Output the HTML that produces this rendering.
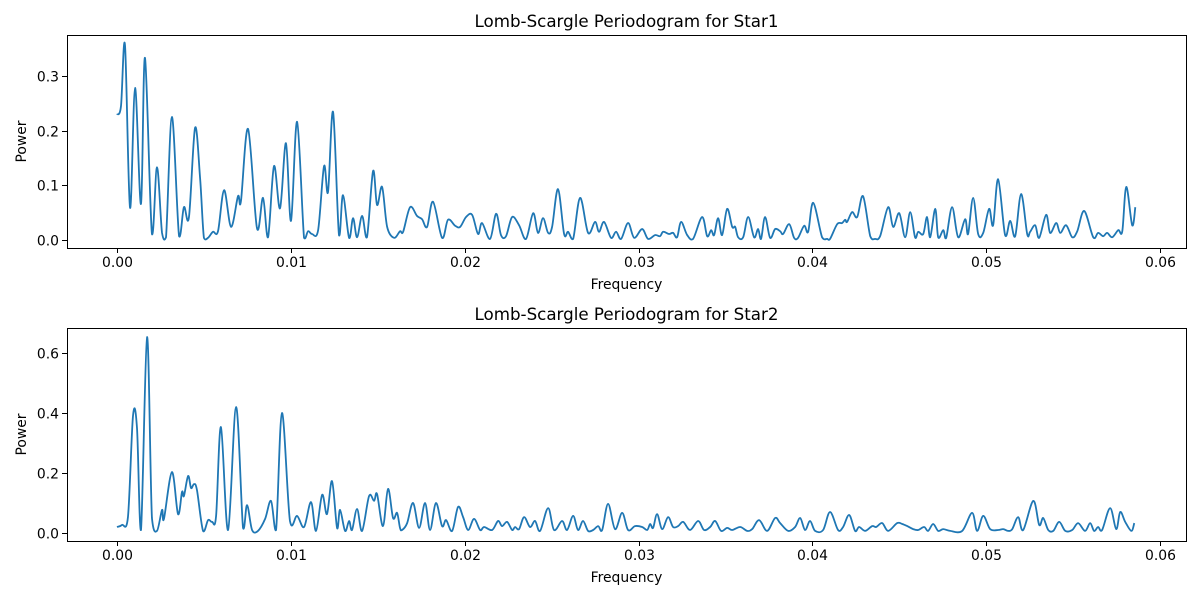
<!DOCTYPE html>
<html><head><meta charset="utf-8">
<style>
body{margin:0;background:#fff}
svg{display:block;font-family:"DejaVu Sans","Liberation Sans",sans-serif}
</style></head>
<body>
<svg id="fig" width="1200" height="600" viewBox="0 0 1200 600" xmlns="http://www.w3.org/2000/svg"></svg>
<script>
const star1Freq=[0,.00023,.00046,.00075,.00104,.00138,.00161,.00201,.0023,.00259,.00282,.00316,.00357,.00385,.00414,.00449,.00478,.005,.00524,.00552,.00581,.00616,.00656,.00696,.00713,.00754,.00805,.0084,.00869,.00903,.00938,.00972,.01001,.01036,.01076,.01099,.01122,.01157,.01191,.01214,.01243,.01277,.013,.01335,.01358,.01381,.0141,.01438,.01473,.01496,.01525,.01554,.01594,.01628,.01646,.01686,.01726,.01755,.01784,.01818,.0187,.01904,.01945,.01974,.02008,.02043,.02077,.021,.02146,.02181,.02209,.02238,.02273,.02313,.02353,.02394,.02422,.02451,.0248,.02503,.02537,.02572,.02595,.02624,.02664,.0271,.0275,.02773,.02802,.02842,.02871,.029,.0294,.02975,.03021,.03055,.03095,.03124,.03142,.03176,.03199,.03222,.03245,.0328,.03314,.03366,.03395,.03418,.03435,.03458,.03481,.0351,.03539,.03556,.03573,.03602,.03631,.03665,.03688,.03705,.03728,.03757,.03786,.03815,.03832,.03867,.03895,.03918,.03953,.03976,.04005,.04056,.04085,.04102,.04143,.04171,.04189,.042,.04229,.04258,.04292,.04333,.04361,.0439,.04436,.04465,.045,.04534,.04563,.04591,.04609,.04638,.0466,.04678,.04707,.04724,.04753,.0477,.04804,.04839,.04879,.04896,.04925,.04954,.04983,.05017,.0504,.05069,.05109,.05138,.05167,.05201,.05236,.05253,.05282,.05305,.05345,.05368,.05403,.05426,.0546,.05495,.05524,.05564,.05616,.05644,.05673,.05696,.05725,.0576,.05783,.05806,.0584,.05858];
const star1Power=[.229,.245,.356,.059,.278,.066,.333,.011,.133,.013,.005,.225,.007,.06,.042,.205,.113,.004,.004,.015,.016,.091,.024,.08,.071,.203,.022,.077,.005,.135,.058,.177,.035,.216,.004,.016,.011,.018,.135,.088,.234,.009,.082,.004,.04,.005,.044,.005,.126,.064,.097,.024,.004,.016,.015,.06,.044,.038,.024,.07,.004,.037,.026,.024,.042,.046,.011,.031,.002,.048,.009,.007,.042,.027,.002,.049,.013,.04,.013,.024,.093,.011,.015,.002,.077,.013,.033,.015,.033,.004,.015,.002,.031,.004,.02,.002,.009,.007,.015,.011,.013,.005,.033,.009,.002,.042,.007,.018,.009,.04,.009,.057,.024,.024,.005,.005,.042,.005,.02,.002,.042,.004,.02,.016,.011,.029,.004,.004,.026,.015,.068,.005,.002,.002,.029,.031,.037,.033,.051,.042,.08,.007,.002,.007,.06,.024,.049,.005,.051,.005,.015,.011,.042,.005,.057,.005,.018,.004,.06,.005,.038,.011,.077,.011,.013,.057,.027,.111,.009,.035,.007,.084,.011,.015,.027,.004,.046,.013,.031,.013,.027,.005,.016,.053,.005,.013,.007,.013,.005,.018,.016,.097,.027,.06];
const star2Freq=[0,.00029,.00063,.00092,.00115,.00138,.00173,.00201,.0023,.00259,.0027,.00316,.00351,.00374,.00385,.00409,.00426,.00443,.0046,.00495,.00524,.00547,.0057,.00598,.00639,.00685,.00725,.00748,.00777,.00811,.00852,.00886,.00915,.00949,.00995,.01036,.01076,.01116,.01145,.0118,.01208,.01237,.01266,.01283,.01312,.01335,.01352,.01381,.0141,.0145,.01479,.01496,.0153,.01559,.01588,.01611,.01628,.0164,.01669,.01703,.01738,.01772,.01801,.01835,.0187,.01893,.01928,.01962,.01991,.0202,.02054,.02089,.02112,.02158,.02192,.02215,.02244,.02273,.0229,.02313,.02342,.02376,.02405,.02434,.0248,.02514,.0256,.02589,.02624,.02652,.02681,.0271,.02739,.02768,.02791,.02825,.02865,.02906,.0294,.0298,.03021,.0305,.03067,.03084,.03107,.03136,.0317,.03199,.03228,.03257,.03297,.03343,.03377,.03412,.03441,.03475,.0351,.03539,.03585,.03625,.03654,.03694,.0374,.03786,.03815,.03861,.03901,.0393,.03958,.03987,.04016,.04062,.04102,.04148,.04177,.04212,.04246,.04269,.04304,.04344,.04367,.04402,.04436,.04488,.04517,.04546,.0458,.04609,.04643,.04666,.04695,.04724,.04753,.04793,.04862,.04919,.04948,.04983,.05023,.05069,.05098,.05127,.0515,.05184,.05213,.05271,.05305,.05328,.05357,.05386,.0542,.05455,.05495,.05529,.05569,.05598,.05621,.05644,.05667,.05713,.05748,.05771,.058,.05835,.05852];
const star2Power=[.02,.027,.053,.39,.35,.01,.653,.05,.007,.077,.047,.203,.063,.137,.123,.19,.15,.163,.143,.007,.043,.037,.057,.353,.01,.42,.017,.093,.01,.007,.047,.107,.01,.4,.04,.057,.02,.103,.007,.127,.063,.173,.017,.077,.007,.04,.01,.08,.007,.123,.107,.13,.023,.147,.05,.067,.017,.01,.033,.1,.017,.1,.01,.1,.023,.043,.007,.087,.053,.01,.047,.01,.02,.01,.04,.023,.037,.01,.02,.013,.053,.02,.04,.007,.083,.01,.04,.01,.057,.01,.04,.007,.01,.023,.01,.097,.013,.067,.01,.023,.02,.01,.03,.017,.063,.013,.053,.02,.023,.037,.01,.04,.01,.02,.04,.007,.017,.01,.02,.007,.013,.043,.007,.05,.033,.007,.02,.05,.01,.04,.007,.01,.07,.01,.02,.06,.007,.02,.007,.023,.02,.033,.007,.033,.03,.023,.013,.01,.02,.007,.03,.007,.013,.007,.007,.067,.007,.057,.013,.01,.013,.007,.013,.053,.01,.107,.027,.05,.01,.007,.037,.007,.01,.033,.007,.033,.007,.02,.01,.083,.013,.07,.037,.007,.033];
const xTicks=[0,0.01,0.02,0.03,0.04,0.05,0.06];
const xTickLabels=["0.00","0.01","0.02","0.03","0.04","0.05","0.06"];
const yTicks1=[0,0.1,0.2,0.3];
const yTickLabels1=["0.0","0.1","0.2","0.3"];
const yTicks2=[0,0.2,0.4,0.6];
const yTickLabels2=["0.0","0.2","0.4","0.6"];

const NS="http://www.w3.org/2000/svg";
const svg=document.getElementById('fig');
function mk(tag,attrs,parent){const e=document.createElementNS(NS,tag);for(const k in attrs)e.setAttribute(k,attrs[k]);(parent||svg).appendChild(e);return e;}
const xScale=f=>117+f*(1160-117)/0.06;
function smooth(pts,floorY){const cl=v=>Math.min(v,floorY);let d=`M${pts[0][0]},${pts[0][1]}`;for(let i=0;i<pts.length-1;i++){const p0=pts[i-1]||pts[i],p1=pts[i],p2=pts[i+1],p3=pts[i+2]||p2;const c1x=p1[0]+(p2[0]-p0[0])/6,c1y=cl(p1[1]+(p2[1]-p0[1])/6),c2x=p2[0]-(p3[0]-p1[0])/6,c2y=cl(p2[1]-(p3[1]-p1[1])/6);d+=` C${c1x.toFixed(2)},${c1y.toFixed(2)} ${c2x.toFixed(2)},${c2y.toFixed(2)} ${p2[0].toFixed(2)},${p2[1].toFixed(2)}`;}return d;}
function panel(idx,top,zeroY,pxPerUnit,freq,power,yT,yL,title){
  const bottom=top+213,left=67,right=1186;
  const yScale=p=>zeroY-p*pxPerUnit;
  const g=mk('g',{});
  
  
  const cid='clip'+idx;
  const cp=mk('clipPath',{id:cid},g);mk('rect',{x:left,y:top,width:right-left,height:bottom-top},cp);
  const pts=freq.map((f,i)=>[xScale(f),yScale(power[i])]);
  const line=mk('path',{d:smooth(pts,zeroY+1),fill:'none',stroke:'#1f77b4','stroke-width':1.8,'stroke-linejoin':'round','clip-path':`url(#${cid})`},g);
  
  
  const fr=mk('rect',{x:left+0.5,y:top+0.5,width:right-left,height:bottom-top,fill:'none',stroke:'#000','stroke-width':1},g);
  
  
  xTicks.forEach((t,i)=>{const x=Math.round(xScale(t))+0.5;mk('line',{x1:x,x2:x,y1:bottom,y2:bottom+5,stroke:'#000','stroke-width':1},g);
    const tx=mk('text',{x:x,y:bottom+19,'font-size':13.9,'text-anchor':'middle',fill:'#000'},g);tx.textContent=xTickLabels[i];
    
    });
  yT.forEach((t,i)=>{const y=Math.round(yScale(t))+0.5;mk('line',{x1:left-5,x2:left,y1:y,y2:y,stroke:'#000','stroke-width':1},g);
    const tx=mk('text',{x:left-8,y:y+5,'font-size':13.9,'text-anchor':'end',fill:'#000'},g);tx.textContent=yL[i];
    
    });
  const ti=mk('text',{x:(left+right)/2,y:top-8,'font-size':16.7,'text-anchor':'middle',fill:'#000'},g);ti.textContent=title;
  
  
  const xl=mk('text',{x:(left+right)/2,y:bottom+41,'font-size':13.9,'text-anchor':'middle',fill:'#000'},g);xl.textContent='Frequency';
  
  
  const cy=(top+bottom)/2;
  const yl=mk('text',{x:26,y:cy,'font-size':13.9,'text-anchor':'middle',fill:'#000',transform:`rotate(-90 26 ${cy})`},g);yl.textContent='Power';
  
  
}
panel(1,35,240,547,star1Freq,star1Power,yTicks1,yTickLabels1,'Lomb-Scargle Periodogram for Star1');
panel(2,328,533,300,star2Freq,star2Power,yTicks2,yTickLabels2,'Lomb-Scargle Periodogram for Star2');
</script>
</body></html>
